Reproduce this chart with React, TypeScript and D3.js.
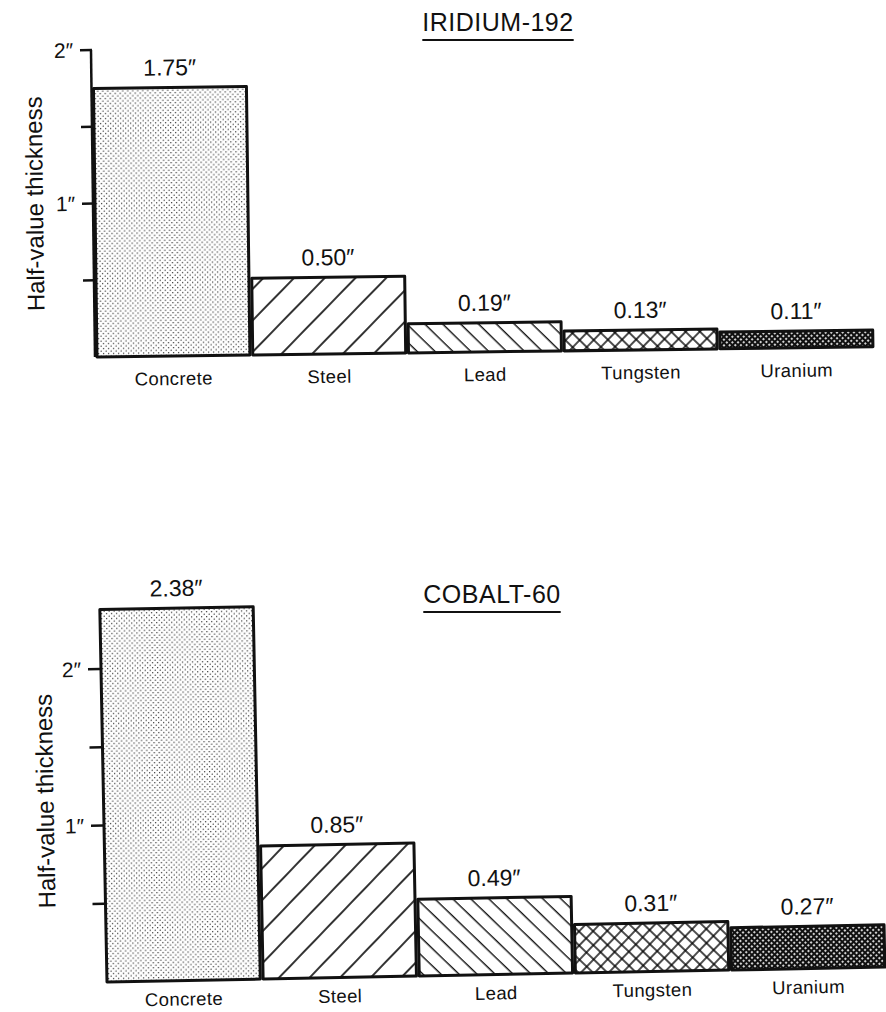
import React, { useEffect, useRef } from "react";
import * as d3 from "d3";

const categories = ["Concrete", "Steel", "Lead", "Tungsten", "Uranium"];
const iridiumValues = [1.75, 0.5, 0.19, 0.13, 0.11];
const cobaltValues = [2.38, 0.85, 0.49, 0.31, 0.27];
const yTickValues = [0.5, 1, 1.5, 2];
const yTickLabels = ["", "1″", "", "2″"];
const patternIds = ["stipple", "diagFwd", "diagBack", "cross", "mesh"];

const FONT = "'Liberation Sans', Arial, Helvetica, sans-serif";

export default function App() {
  const ref = useRef<SVGSVGElement | null>(null);

  useEffect(() => {
    const svg = d3.select(ref.current);
    svg.selectAll("*").remove();

    const defs = svg.append("defs");
    // stipple (concrete)
    const p1 = defs.append("pattern").attr("id", "stipple").attr("patternUnits", "userSpaceOnUse")
      .attr("width", 5).attr("height", 5);
    p1.append("rect").attr("width", 5).attr("height", 5).attr("fill", "#fff");
    p1.append("circle").attr("cx", 1.2).attr("cy", 1.2).attr("r", 0.6).attr("fill", "#000");
    p1.append("circle").attr("cx", 3.7).attr("cy", 3.7).attr("r", 0.6).attr("fill", "#000");
    // forward diagonal (steel)
    const p2 = defs.append("pattern").attr("id", "diagFwd").attr("patternUnits", "userSpaceOnUse")
      .attr("width", 22).attr("height", 22).attr("patternTransform", "rotate(45)");
    p2.append("rect").attr("width", 22).attr("height", 22).attr("fill", "#fff");
    p2.append("line").attr("x1", 11).attr("y1", 0).attr("x2", 11).attr("y2", 22)
      .attr("stroke", "#000").attr("stroke-width", 1.6);
    // backward diagonal (lead)
    const p3 = defs.append("pattern").attr("id", "diagBack").attr("patternUnits", "userSpaceOnUse")
      .attr("width", 12.5).attr("height", 12.5).attr("patternTransform", "rotate(-45)");
    p3.append("rect").attr("width", 12.5).attr("height", 12.5).attr("fill", "#fff");
    p3.append("line").attr("x1", 6).attr("y1", 0).attr("x2", 6).attr("y2", 12.5)
      .attr("stroke", "#000").attr("stroke-width", 1.3);
    // crosshatch (tungsten)
    const p4 = defs.append("pattern").attr("id", "cross").attr("patternUnits", "userSpaceOnUse")
      .attr("width", 10).attr("height", 10).attr("patternTransform", "rotate(45)");
    p4.append("rect").attr("width", 10).attr("height", 10).attr("fill", "#fff");
    p4.append("line").attr("x1", 5).attr("y1", 0).attr("x2", 5).attr("y2", 10)
      .attr("stroke", "#000").attr("stroke-width", 1.4);
    p4.append("line").attr("x1", 0).attr("y1", 5).attr("x2", 10).attr("y2", 5)
      .attr("stroke", "#000").attr("stroke-width", 1.4);
    // dense mesh (uranium)
    const p5 = defs.append("pattern").attr("id", "mesh").attr("patternUnits", "userSpaceOnUse")
      .attr("width", 4).attr("height", 4).attr("patternTransform", "rotate(45)");
    p5.append("rect").attr("width", 4).attr("height", 4).attr("fill", "#111");
    p5.append("rect").attr("x", 1.1).attr("y", 1.1).attr("width", 1.8).attr("height", 1.8).attr("fill", "#fff");

    const panels = [
      { title: "IRIDIUM-192", values: iridiumValues, base: 357, top2: 50, x0: 97, x1: 873,
        rot: -0.75, axisLine: true, titleY: 31, titleX: 498, labelYOff: 29, ylabX: 52, ylabMid: 203 },
      { title: "COBALT-60", values: cobaltValues, base: 982, top2: 669, x0: 107, x1: 885,
        rot: -1.1, axisLine: false, titleY: 603, titleX: 492, labelYOff: 25, ylabX: 50, ylabMid: 800 },
    ];

    panels.forEach((pn) => {
      const y = d3.scaleLinear().domain([0, 2]).range([pn.base, pn.top2]);
      const x = d3.scaleBand<string>().domain(categories).range([pn.x0, pn.x1]).paddingInner(0.018);

      // title
      const tg = svg.append("g");
      const tt = tg.append("text").attr("x", pn.titleX).attr("y", pn.titleY)
        .attr("text-anchor", "middle").attr("font-family", FONT).attr("font-size", 25)
        .attr("letter-spacing", 0.5).attr("fill", "#111").text(pn.title);
      const w = (tt.node() as SVGTextElement).getComputedTextLength();
      tg.append("line").attr("x1", pn.titleX - w / 2).attr("x2", pn.titleX + w / 2)
        .attr("y1", pn.titleY + 9).attr("y2", pn.titleY + 9)
        .attr("stroke", "#111").attr("stroke-width", 2.2);

      const g = svg.append("g")
        .attr("transform", `rotate(${pn.rot} ${pn.x0} ${pn.base})`);

      // y axis
      const ax = g.append("g");
      if (pn.axisLine) {
        ax.append("line").attr("x1", pn.x0 - 2).attr("x2", pn.x0 - 2)
          .attr("y1", y(2)).attr("y2", y(0)).attr("stroke", "#111").attr("stroke-width", 2.5);
      }
      yTickValues.forEach((v, i) => {
        ax.append("line").attr("x1", pn.x0 - 13).attr("x2", pn.x0 - 1)
          .attr("y1", y(v)).attr("y2", y(v)).attr("stroke", "#111").attr("stroke-width", 2.5);
        if (yTickLabels[i]) {
          ax.append("text").attr("x", pn.x0 - 20).attr("y", y(v)).attr("dy", "0.35em")
            .attr("text-anchor", "end").attr("font-family", FONT).attr("font-size", 21)
            .attr("fill", "#111").text(yTickLabels[i]);
        }
      });
      ax.append("text")
        .attr("transform", `translate(${pn.x0 - pn.ylabX},${pn.ylabMid}) rotate(-90)`)
        .attr("text-anchor", "middle").attr("font-family", FONT).attr("font-size", 24)
        .attr("fill", "#111").text("Half-value thickness");

      // bars
      categories.forEach((c, i) => {
        const v = pn.values[i];
        g.append("rect").attr("x", x(c)!).attr("y", y(v)).attr("width", x.bandwidth())
          .attr("height", y(0) - y(v)).attr("fill", `url(#${patternIds[i]})`)
          .attr("stroke", "#111").attr("stroke-width", 3).attr("stroke-linejoin", "round");
        g.append("text").attr("x", x(c)! + x.bandwidth() / 2).attr("y", y(v) - 12)
          .attr("text-anchor", "middle").attr("font-family", FONT).attr("font-size", 23)
          .attr("fill", "#111").text(`${v.toFixed(2)}″`);
        g.append("text").attr("x", x(c)! + x.bandwidth() / 2).attr("y", y(0) + pn.labelYOff)
          .attr("text-anchor", "middle").attr("font-family", FONT).attr("font-size", 18.5)
          .attr("letter-spacing", 0.4).attr("fill", "#111").text(c);
      });
    });
  }, []);

  return (
    <svg ref={ref} width={886} height={1012}
      style={{ position: "absolute", left: 0, top: 0, background: "#fff" }} />
  );
}
